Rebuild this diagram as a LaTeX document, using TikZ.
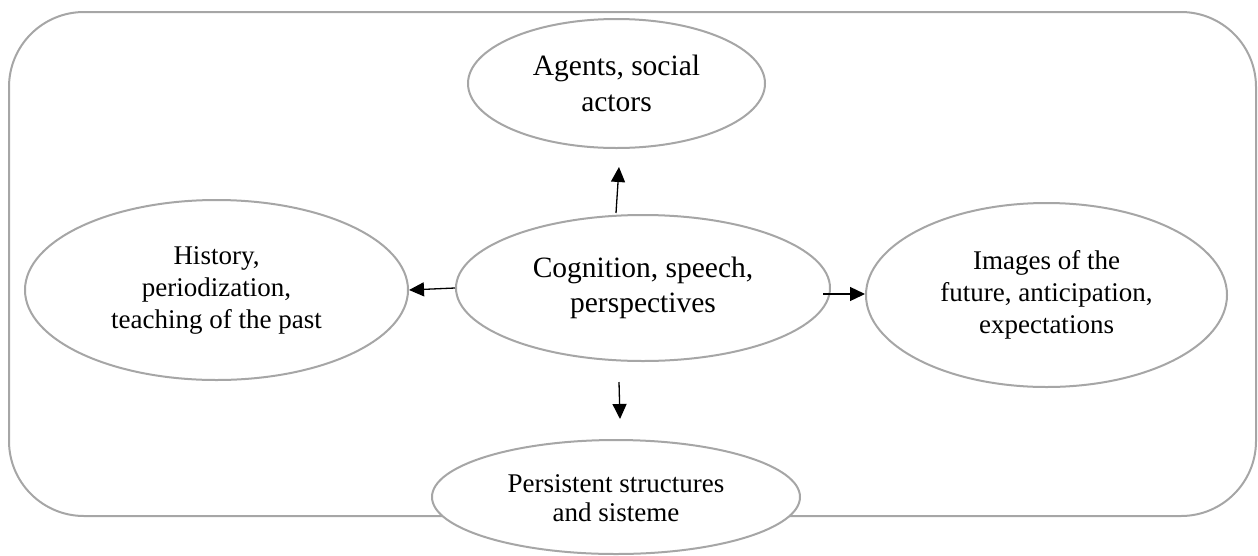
\documentclass[tikz,border=0pt]{standalone}
\usepackage{fontspec}
\setmainfont{Liberation Serif}
\usetikzlibrary{shapes.geometric,arrows.meta}
\definecolor{rimgray}{HTML}{A6A6A6}
% multi-line label: size, line spacing, text, vertical lift
\newcommand{\lbl}[4]{\raisebox{#4}[\height][\depth]{\fontsize{#1}{#2}\selectfont\begin{tabular}{@{}c@{}}#3\end{tabular}}}
\tikzset{
  bubble/.style={ellipse, draw=rimgray, line width=2pt, fill=white, inner sep=0pt},
  flow/.style={draw=black, line width=1.3pt, -{Triangle[length=15pt,width=14pt]}},
}
\begin{document}
\begin{tikzpicture}[x=1pt,y=-1pt]
\useasboundingbox (0,0) rectangle (1258,555);
% outer frame
\draw[rimgray, line width=2pt, rounded corners=75pt] (9,12) rectangle (1256,516);

\node[bubble, minimum width=297pt, minimum height=129pt] (agents) at (616.5,83.5)
  {\lbl{29.5}{36}{Agents, social\\actors}{-3pt}};
\node[bubble, minimum width=383pt, minimum height=180pt] (history) at (216.5,290)
  {\lbl{27}{32}{History,\\periodization,\\teaching of the past}{0pt}};
\node[bubble, minimum width=374pt, minimum height=146pt] (cognition) at (643,288)
  {\lbl{29.5}{35}{Cognition, speech,\\perspectives}{0pt}};
\node[bubble, minimum width=361pt, minimum height=184pt] (images) at (1046.5,295)
  {\lbl{27}{32}{Images of the\\future, anticipation,\\expectations}{0pt}};
\node[bubble, minimum width=368pt, minimum height=114pt] (persist) at (616,497)
  {\lbl{27}{29}{Persistent structures\\and sisteme}{-4pt}};

% arrow end points in the free space between the bubbles
\coordinate (upS) at (616,213);
\coordinate (upE) at (619,167);
\coordinate (rtS) at (823,294);
\coordinate (dnS) at (619,382);
\coordinate (dnE) at (620,419);

\draw[flow] (upS) -- (upE);
\draw[flow] (cognition.west) -- (history.east);
\draw[flow] (rtS) -- (images.west |- rtS);
\draw[flow] (dnS) -- (dnE);
\end{tikzpicture}
\end{document}
